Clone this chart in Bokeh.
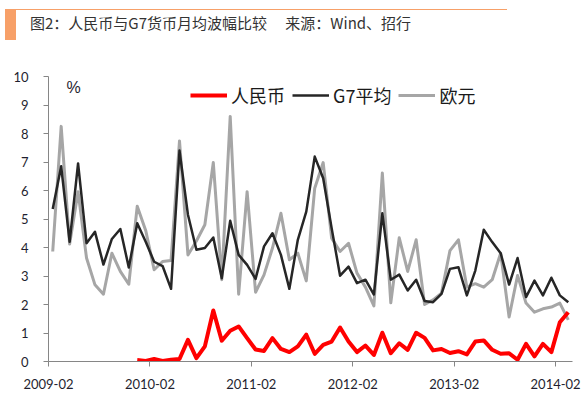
from bokeh.plotting import figure
from bokeh.models import (Legend, LegendItem, Label, FixedTicker, Range1d, Div)
from bokeh.layouts import column
from bokeh.embed import file_html
from bokeh.resources import INLINE
import numpy as np

# ---- data (monthly, 2009-02 .. 2014-03) ----
title_text = "图2：人民币与G7货币月均波幅比较\u3000 来源：Wind、招行"
tick_labels = ["2009-02", "2010-02", "2011-02", "2012-02", "2013-02", "2014-02"]
g7_avg = [5.35, 6.85, 4.2, 6.95, 4.15, 4.55, 3.4, 4.3, 4.65, 3.3, 4.85, 4.2,
          3.5, 3.35, 2.55, 7.4, 5.15, 3.92, 3.98, 4.35, 2.92, 4.94, 3.74, 3.39,
          2.9, 4.04, 4.5, 3.74, 2.55, 4.27, 5.26, 7.19, 6.43, 4.68, 3.01, 3.33,
          2.75, 2.87, 2.35, 5.2, 2.87, 3.05, 2.49, 2.87, 2.12, 2.08, 2.37, 3.25,
          3.31, 2.32, 3.19, 4.62, 4.19, 3.8, 2.7, 3.63, 2.26, 2.84, 2.32, 2.94,
          2.32, 2.08]
eur = [3.86, 8.25, 4.12, 5.96, 3.63, 2.69, 2.36, 3.8, 3.16, 2.71, 5.45, 4.6,
       3.22, 3.51, 3.54, 7.74, 3.74, 4.23, 4.8, 6.98, 2.87, 8.6, 2.36, 5.96,
       2.43, 3.04, 3.98, 5.2, 3.57, 3.8, 2.83, 6.08, 6.98, 4.33, 3.86, 4.15,
       3.1, 2.61, 1.95, 6.61, 2.06, 4.34, 3.16, 4.27, 2.0, 2.16, 2.4, 3.89,
       4.27, 2.61, 2.73, 2.61, 2.87, 3.8, 1.56, 3.02, 2.05, 1.73, 1.85, 1.91,
       2.05, 1.46]
# RMB series starts 2009-12 (month index 10)
rmb_start = 10
rmb = [0.05, 0.02, 0.09, 0.02, 0.06, 0.09, 0.76, 0.12, 0.53, 1.79, 0.73, 1.08,
       1.23, 0.82, 0.42, 0.37, 0.82, 0.44, 0.33, 0.53, 0.94, 0.27, 0.58, 0.70,
       1.19, 0.70, 0.33, 0.56, 0.23, 1.01, 0.29, 0.64, 0.41, 1.01, 0.83, 0.39,
       0.44, 0.30, 0.36, 0.25, 0.70, 0.74, 0.41, 0.27, 0.29, 0.06, 0.62, 0.18,
       0.62, 0.33, 1.38, 1.73]

n = len(g7_avg)
xs = np.arange(n) + 0.5
rmb_x = np.arange(rmb_start, rmb_start + len(rmb)) + 0.5

orange = "#f7a068"
header = Div(
    text=(
        '<div style="position:relative;width:587px;height:40px;">'
        f'<div style="position:absolute;left:5px;top:9px;width:502px;height:1px;background:{orange};"></div>'
        f'<div style="position:absolute;left:5px;top:10px;width:11px;height:30px;background:{orange};"></div>'
        '<div style="position:absolute;left:30px;top:13px;font-family:\'Noto Sans CJK SC\';'
        'font-size:15px;line-height:20px;color:#333333;white-space:pre;">'
        f'{title_text}</div></div>'
    ),
    width=587, height=40, margin=(0, 0, 0, 0),
)

p = figure(width=587, height=358, output_backend="svg", toolbar_location=None,
           x_range=Range1d(0, n), y_range=Range1d(0, 10),
           min_border_left=48, min_border_right=15, min_border_top=36,
           min_border_bottom=37)
p.outline_line_color = None
p.xgrid.visible = False
p.ygrid.visible = False
p.background_fill_color = "white"
p.border_fill_color = "white"

axis_col = "#868686"
lab_col = "#1f1f2f"
for ax in (p.xaxis[0], p.yaxis[0]):
    ax.axis_line_color = axis_col
    ax.major_tick_line_color = axis_col
    ax.minor_tick_line_color = None
    ax.major_tick_in = 0
    ax.major_tick_out = 5
    ax.major_label_text_font = "Lato"
    ax.major_label_text_font_size = "13px"
    ax.major_label_text_color = lab_col

p.yaxis.ticker = FixedTicker(ticks=list(range(0, 11)))
p.yaxis.major_label_standoff = 15
p.xaxis.ticker = FixedTicker(ticks=[12 * k for k in range(len(tick_labels))])
p.xaxis.major_label_overrides = {12 * k: lab for k, lab in enumerate(tick_labels)}
p.xaxis.major_label_standoff = 12

r_rmb = p.line(rmb_x, rmb, line_color="#ff0000", line_width=4, line_join="round")
r_g7 = p.line(xs, g7_avg, line_color="#262626", line_width=2.5, line_join="round")
r_eur = p.line(xs, eur, line_color="#a6a6a6", line_width=3, line_join="round")
p.renderers = [r_eur, r_g7, r_rmb]

legend = Legend(items=[LegendItem(label="人民币", renderers=[r_rmb]),
                       LegendItem(label="G7平均", renderers=[r_g7]),
                       LegendItem(label="欧元", renderers=[r_eur])],
                orientation="horizontal", location=(142, 253))
legend.padding = 0
legend.margin = 0
legend.spacing = 7
legend.glyph_width = 37
legend.glyph_height = 20
legend.label_standoff = 4
legend.label_text_font = "Noto Sans CJK SC"
legend.label_text_font_size = "18px"
legend.label_text_color = "#1a1a1a"
legend.border_line_color = None
legend.background_fill_alpha = 0
p.add_layout(legend, "center")

p.add_layout(Label(x=25, y=274, x_units="screen", y_units="screen", text="%",
                   text_align="center", text_baseline="middle",
                   text_font="Liberation Sans", text_font_size="16px",
                   text_color=lab_col))

layout = column(header, p, spacing=0)
open("out.html", "w").write(file_html(layout, INLINE))
